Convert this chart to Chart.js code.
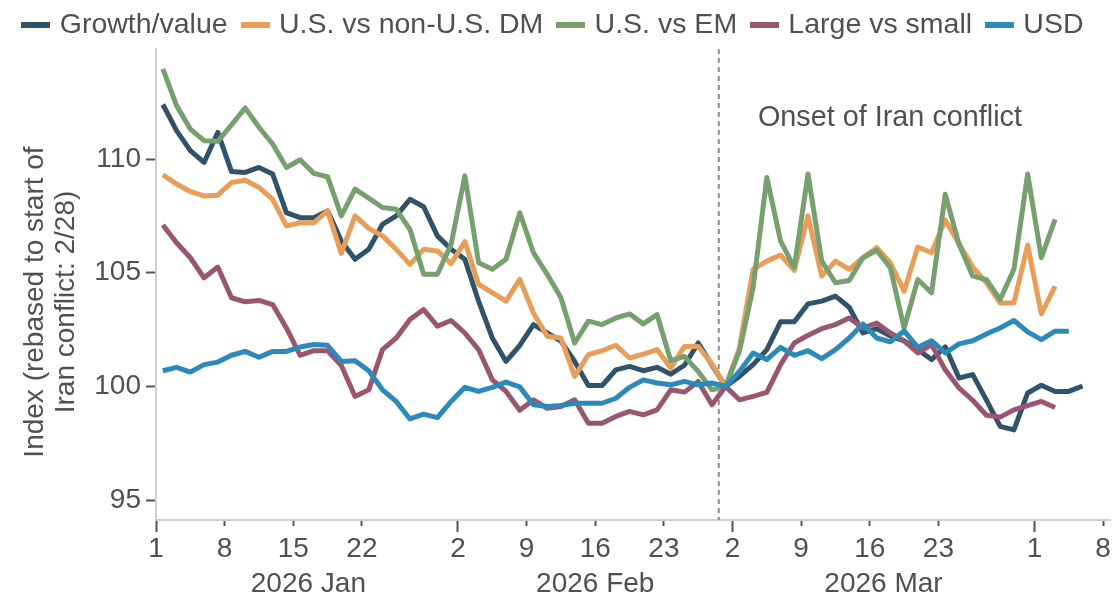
<!DOCTYPE html>
<html>
<head>
<meta charset="utf-8">
<script src="https://cdn.jsdelivr.net/npm/chart.js@4.4.1/dist/chart.umd.min.js"></script>
<style>
  html, body { margin: 0; padding: 0; background: #fff; }
  #wrap { width: 1112px; height: 599px; }
</style>
</head>
<body>
<div id="wrap"><canvas id="chart" width="1112" height="599"></canvas></div>
<script>
// trading-day index on x: 0 = first session of January
const seriesNames = ['Growth/value', 'U.S. vs non-U.S. DM', 'U.S. vs EM', 'Large vs small', 'USD'];

const growthValue = [
  112.4, 111.25, 110.37, 109.85, 111.17, 109.45, 109.41, 109.63, 109.34, 107.64,
  107.42, 107.42, 107.72, 106.4, 105.59, 106.03, 107.13, 107.5, 108.23, 107.9,
  106.62, 106.03, 105.59, 103.75, 102.13, 101.1, 101.8, 102.72, 102.35, 101.99,
  101.1, 100.04, 100.04, 100.73, 100.88, 100.69, 100.84, 100.54, 100.93, 101.91,
  100.95, 100, 100.44, 100.96, 101.62, 102.84, 102.84, 103.63, 103.75, 103.97,
  103.48, 102.35, 102.54, 102.21, 102.0, 101.62, 101.18, 101.74, 100.37, 100.52,
  99.4, 98.24, 98.09, 99.71, 100.05, 99.78, 99.78, 100.02
];
const usVsDm = [
  109.31, 108.9, 108.57, 108.38, 108.41, 108.97, 109.07, 108.75, 108.23, 107.06,
  107.2, 107.2, 107.72, 105.85, 107.5, 106.95, 106.62, 106.03, 105.37, 106.03,
  105.96, 105.4, 106.37, 104.49, 104.12, 103.75, 104.71, 103.23, 102.21, 102.13,
  100.44, 101.4, 101.57, 101.81, 101.25, 101.42, 101.62, 100.81, 101.76, 101.76,
  101.0, 100, 101.69, 105.15, 105.51, 105.78, 105.1, 107.5, 104.85, 105.51,
  105.15, 105.66, 106.1, 105.44, 104.19, 106.13, 105.88, 107.31, 106.28, 105.25,
  104.56, 103.67, 103.67, 106.22, 103.19, 104.41
];
const usVsEm = [
  113.97, 112.35, 111.32, 110.81, 110.78, 111.5, 112.25, 111.4, 110.66, 109.63,
  109.97, 109.37, 109.22, 107.5, 108.68, 108.28, 107.87, 107.79, 106.91, 104.93,
  104.93, 106.25, 109.26, 105.44, 105.15, 105.59, 107.64, 105.88, 104.93, 103.9,
  101.91, 102.87, 102.72, 103.01, 103.19, 102.75, 103.16, 101.13, 101.32, 100.66,
  99.85, 100, 101.54, 104.34, 109.19, 106.4, 105.22, 109.34, 105.51, 104.56,
  104.66, 105.66, 105.99, 105.22, 102.57, 104.7, 104.12, 108.45, 106.25, 104.85,
  104.7, 103.82, 105.15, 109.34, 105.66, 107.35
];
const largeVsSmall = [
  107.1, 106.32, 105.66, 104.78, 105.25, 103.9, 103.72, 103.78, 103.6, 102.57,
  101.37, 101.57, 101.57, 100.92, 99.56, 99.85, 101.62, 102.13, 102.94, 103.38,
  102.65, 102.9, 102.35, 101.62, 100.29, 99.78, 98.95, 99.41, 99.04, 99.12,
  99.41, 98.38, 98.38, 98.68, 98.9, 98.75, 98.97, 99.85, 99.75, 100.22,
  99.19, 100, 99.41, 99.56, 99.74, 100.96, 101.91, 102.25, 102.54, 102.72,
  103.01, 102.57, 102.79, 102.35, 102.0, 101.47, 101.84, 100.73, 99.93, 99.39,
  98.73, 98.65, 98.97, 99.16, 99.34, 99.07
];
const usd = [
  100.69, 100.84, 100.63, 100.96, 101.07, 101.37, 101.54, 101.28, 101.54, 101.54,
  101.73, 101.84, 101.81, 101.1, 101.13, 100.69, 99.85, 99.34, 98.57, 98.78,
  98.63, 99.34, 99.96, 99.78, 99.96, 100.19, 99.98, 99.19, 99.12, 99.16,
  99.26, 99.26, 99.26, 99.48, 99.96, 100.29, 100.15, 100.07, 100.22, 100.07,
  100.15, 100, 100.66, 101.47, 101.18, 101.72, 101.37, 101.57, 101.22, 101.62,
  102.13, 102.75, 102.13, 101.96, 102.44, 101.72, 102.01, 101.47, 101.87, 102.01,
  102.31, 102.57, 102.9, 102.4, 102.06, 102.43, 102.43
];

const dayTickPos = [-0.5, 4.5, 9.5, 14.5, 21.5, 26.5, 31.5, 36.5, 41.5, 46.5, 51.5, 56.5, 63.5, 68.5];
const dayTickLabels = ['1', '8', '15', '22', '2', '9', '16', '23', '2', '9', '16', '23', '1', '8'];
const monthStartTicks = [0, 4, 8, 12];
const monthLabels = ['2026 Jan', '2026 Feb', '2026 Mar'];
const monthLabelPos = [10.6, 31.5, 52.5];
const yTicks = [95, 100, 105, 110];
const onsetX = 40.5;
const onsetLabel = 'Onset of Iran conflict';
const yTitle = ['Index (rebased to start of', 'Iran conflict: 2/28)'];

const colors = ['#30536b', '#e89e58', '#76a06e', '#9a5570', '#2c8abb'];
const fontFamily = '"Liberation Sans", Arial, Helvetica, sans-serif';
const textColor = '#505050';
const fontSize = 28;

Chart.defaults.font.family = fontFamily;
Chart.defaults.font.size = fontSize;
Chart.defaults.color = textColor;

const toPoints = arr => arr.map((v, i) => ({ x: i, y: v }));
const allSeries = [growthValue, usVsDm, usVsEm, largeVsSmall, usd];

// legend swatch: a short thick bar, a bit wider than the legend box so the text sits closer
function swatch(color) {
  const c = document.createElement('canvas');
  c.width = 29;
  c.height = 6;
  const g = c.getContext('2d');
  g.fillStyle = color;
  g.fillRect(0, 0, 29, 6);
  return c;
}

const extras = {
  id: 'extras',
  beforeDatasetsDraw(chart) {
    const { ctx, chartArea, scales: { x } } = chart;
    const px = x.getPixelForValue(onsetX);
    ctx.save();
    ctx.strokeStyle = '#8c8c8c';
    ctx.lineWidth = 2;
    ctx.setLineDash([5, 4]);
    ctx.beginPath();
    ctx.moveTo(px, chartArea.top);
    ctx.lineTo(px, chartArea.bottom);
    ctx.stroke();
    ctx.restore();
  },
  afterDraw(chart) {
    const { ctx, scales: { x, y } } = chart;
    ctx.save();
    ctx.fillStyle = textColor;
    ctx.textBaseline = 'middle';

    ctx.font = `28.8px ${fontFamily}`;
    ctx.textAlign = 'left';
    ctx.fillText(onsetLabel, x.getPixelForValue(43.35), y.getPixelForValue(111.8));

    ctx.font = `${fontSize}px ${fontFamily}`;
    ctx.textAlign = 'center';
    monthLabels.forEach((m, i) => ctx.fillText(m, x.getPixelForValue(monthLabelPos[i]), 584));

    yTitle.forEach((line, i) => {
      ctx.save();
      ctx.translate(35 + i * 31, 302);
      ctx.rotate(-Math.PI / 2);
      ctx.fillText(line, 0, 0);
      ctx.restore();
    });
    ctx.restore();
  }
};

new Chart(document.getElementById('chart'), {
  type: 'line',
  data: {
    datasets: seriesNames.map((name, i) => ({
      label: name,
      data: toPoints(allSeries[i]),
      borderColor: colors[i],
      backgroundColor: colors[i],
      borderWidth: 5,
      borderJoinStyle: 'round',
      pointRadius: 0,
      pointStyle: swatch(colors[i]),
      tension: 0,
      order: seriesNames.length - i,
    })),
  },
  options: {
    responsive: false,
    animation: false,
    devicePixelRatio: 1,
    // legend block is taller than needed because of its padding, pull it up
    layout: { padding: { top: -7.5, right: 2, left: 0, bottom: 0 } },
    plugins: {
      tooltip: { enabled: false },
      legend: {
        position: 'top',
        labels: {
          usePointStyle: true,
          pointStyleWidth: 19,
          padding: 18,
          color: textColor,
          font: { size: 28.5 },
          sort: (a, b) => a.datasetIndex - b.datasetIndex,
        },
      },
    },
    scales: {
      x: {
        type: 'linear',
        min: -0.5,
        max: 69,
        afterBuildTicks: s => { s.ticks = dayTickPos.map(v => ({ value: v })); },
        afterFit: s => { s.height = 79; },
        ticks: {
          autoSkip: false,
          maxRotation: 0,
          padding: 0,
          callback: (v, i) => dayTickLabels[i],
        },
        grid: {
          drawOnChartArea: false,
          tickLength: 12,
          tickWidth: 2,
          tickColor: '#555',
          tickBorderDash: ctx => monthStartTicks.includes(ctx.index) ? [] : [5, 40],
        },
        border: { color: '#d0d0d0', width: 2 },
      },
      y: {
        min: 94.125,
        max: 114.84,
        afterBuildTicks: s => { s.ticks = yTicks.map(v => ({ value: v })); },
        afterFit: s => { s.width = 156; },
        ticks: { padding: 5, callback: v => String(v) },
        grid: {
          drawOnChartArea: false,
          tickLength: 10,
          tickWidth: 2,
          tickColor: '#555',
        },
        border: { color: '#d0d0d0', width: 2 },
      },
    },
  },
  plugins: [extras],
});
</script>
</body>
</html>
